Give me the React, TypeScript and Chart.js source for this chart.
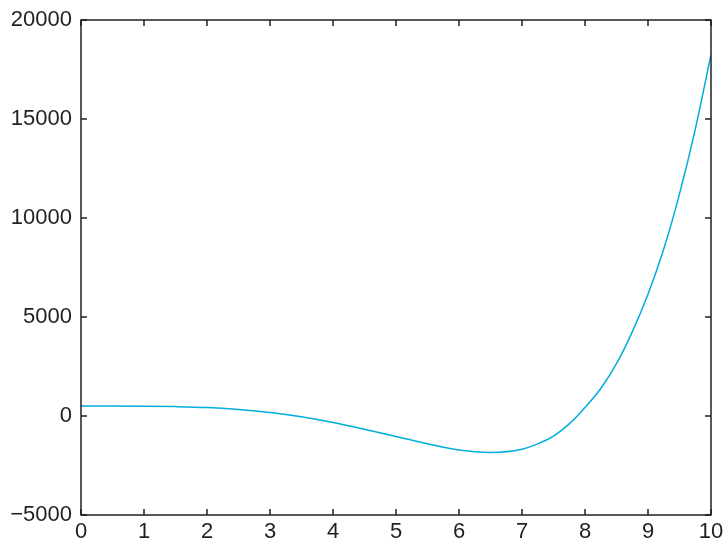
import React, { useEffect, useRef } from "react";
import { Chart, registerables } from "chart.js";

Chart.register(...registerables);

const xValues = [0, 0.5, 1, 1.5, 2, 2.5, 3, 3.5, 4, 4.5, 5, 5.5, 6, 6.5, 7, 7.25, 7.5, 7.75, 8, 8.25, 8.5, 8.75, 9, 9.25, 9.5, 9.75, 10];
const yValues = [500, 500, 495, 475, 430, 330, 180, -40, -330, -670, -1030, -1400, -1720, -1840, -1680, -1410, -1020, -400, 430, 1390, 2640, 4250, 6150, 8430, 11220, 14480, 18250];
const xTicks = [0, 1, 2, 3, 4, 5, 6, 7, 8, 9, 10];
const yTicks = [-5000, 0, 5000, 10000, 15000, 20000];

const AXIS_COLOR = "#231f20";
const LINE_COLOR = "#00aedb";

const boxPlugin = {
  id: "matlabBox",
  afterDraw(chart: any) {
    const { ctx, chartArea: a, scales } = chart;
    const xs = scales.x;
    const ys = scales.y;
    const len = 6;
    ctx.save();
    ctx.strokeStyle = AXIS_COLOR;
    ctx.lineWidth = 1.5;
    ctx.beginPath();
    ctx.rect(a.left, a.top, a.right - a.left, a.bottom - a.top);
    ctx.stroke();
    ctx.beginPath();
    for (const t of xTicks) {
      const px = xs.getPixelForValue(t);
      ctx.moveTo(px, a.bottom);
      ctx.lineTo(px, a.bottom - len);
      ctx.moveTo(px, a.top);
      ctx.lineTo(px, a.top + len);
    }
    for (const t of yTicks) {
      const py = ys.getPixelForValue(t);
      ctx.moveTo(a.left, py);
      ctx.lineTo(a.left + len, py);
      ctx.moveTo(a.right, py);
      ctx.lineTo(a.right - len, py);
    }
    ctx.stroke();
    ctx.restore();
  },
};

export default function App() {
  const ref = useRef<HTMLCanvasElement | null>(null);

  useEffect(() => {
    if (!ref.current) return;
    const chart = new Chart(ref.current, {
      type: "line",
      data: {
        datasets: [
          {
            data: xValues.map((x, i) => ({ x, y: yValues[i] })),
            borderColor: LINE_COLOR,
            borderWidth: 1.5,
            pointRadius: 0,
            fill: false,
            cubicInterpolationMode: "monotone",
          },
        ],
      },
      options: {
        animation: false,
        responsive: false,
        maintainAspectRatio: false,
        layout: { padding: { top: 20, right: 15, left: 0, bottom: 0 } },
        plugins: { legend: { display: false }, tooltip: { enabled: false } },
        scales: {
          x: {
            type: "linear",
            min: 0,
            max: 10,
            grid: { display: false, drawTicks: false },
            border: { display: false },
            afterBuildTicks: (s: any) => {
              s.ticks = xTicks.map((v) => ({ value: v }));
            },
            afterFit: (s: any) => {
              s.height = 25;
              s.paddingLeft = 0;
              s.paddingRight = 0;
            },
            ticks: {
              padding: 4,
              color: AXIS_COLOR,
              font: { family: "'Liberation Sans', Arial, sans-serif", size: 22 },
              maxRotation: 0,
              autoSkip: false,
            },
          },
          y: {
            type: "linear",
            min: -5000,
            max: 20000,
            grid: { display: false, drawTicks: false },
            border: { display: false },
            afterBuildTicks: (s: any) => {
              s.ticks = yTicks.map((v) => ({ value: v }));
            },
            afterFit: (s: any) => {
              s.width = 81;
              s.paddingTop = 0;
              s.paddingBottom = 0;
            },
            ticks: {
              padding: 9,
              color: AXIS_COLOR,
              font: { family: "'Liberation Sans', Arial, sans-serif", size: 22 },
              callback: (v: any) => String(v).replace("-", "\u2212"),
            },
          },
        },
      },
      plugins: [boxPlugin],
    });
    return () => chart.destroy();
  }, []);

  return (
    <div style={{ position: "fixed", left: 0, top: 0, width: 726, height: 540, background: "#fff" }}>
      <canvas ref={ref} width={726} height={540} style={{ width: 726, height: 540 }} />
    </div>
  );
}
